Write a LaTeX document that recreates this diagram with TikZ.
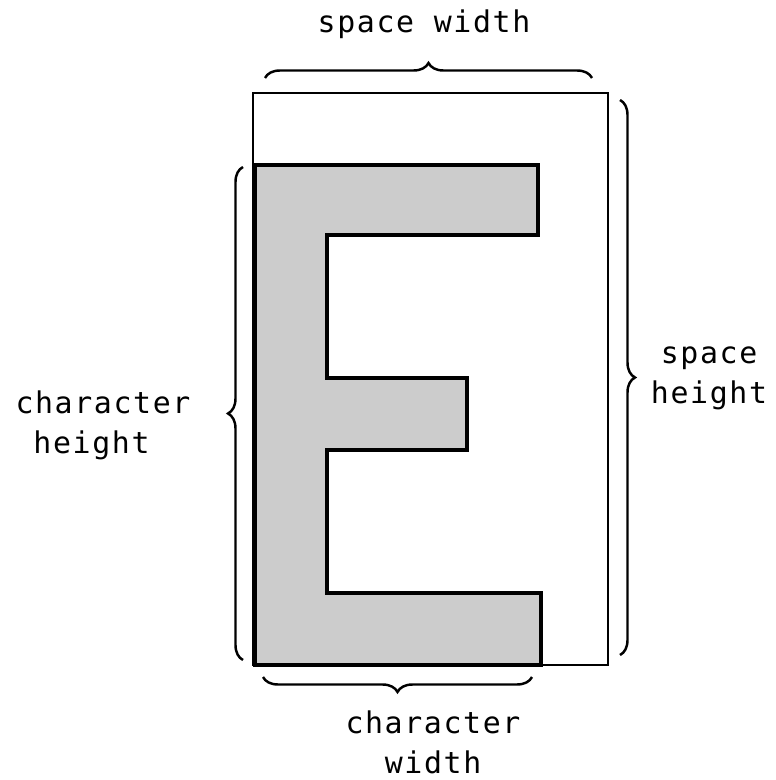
\documentclass[tikz,border=0pt]{standalone}
\usepackage{fontspec}
\newfontfamily\labelfont[LetterSpace=5.5]{DejaVu Sans Mono}
\usetikzlibrary{decorations.pathreplacing}

\begin{document}
\begin{tikzpicture}[x=0.02cm, y=-0.02cm,
        spacebox/.style={draw, line width=1.6pt},
        glyph/.style={draw, line width=2pt, fill=black!20, line join=miter},
        measure/.style={decorate, decoration={brace, amplitude=0.3cm}, line width=1.4pt},
        caption/.style={font=\labelfont\fontsize{17pt}{22.7pt}\selectfont, inner sep=0pt, anchor=base}
    ]
    \useasboundingbox (0,0) rectangle (775,780);

    % Glyph
    \draw[glyph] (255,165) -- (538,165) -- (538,235) -- (327,235) -- (327,378)
        -- (467,378) -- (467,450) -- (327,450) -- (327,593) -- (541,593)
        -- (541,665) -- (255,665) -- cycle;

    % Space box
    \draw[spacebox] (253,93) rectangle (608,665);

    % Brace ends
    \coordinate (sw1) at (265,78);  \coordinate (sw2) at (592,78);
    \coordinate (sh1) at (620,100); \coordinate (sh2) at (620,655);
    \coordinate (cw1) at (532,677); \coordinate (cw2) at (263,677);
    \coordinate (ch1) at (243,660); \coordinate (ch2) at (243,167);

    % Braces
    \draw[measure] (sw1) -- (sw2);
    \draw[measure] (sh1) -- (sh2);
    \draw[measure] (cw1) -- (cw2);
    \draw[measure] (ch1) -- (ch2);

    % Labels (base = last line)
    \node[caption] (spacewidth) at (424,33) {space width};
    \node[caption, align=center] (spaceheight) at (709,403) {space\\height};
    \node[caption, align=center] (charwidth) at (433,773) {character\\width};
    \node[caption, align=left] (charheight) at (103,453) {character\\\phantom{c}height};

\end{tikzpicture}
\end{document}
